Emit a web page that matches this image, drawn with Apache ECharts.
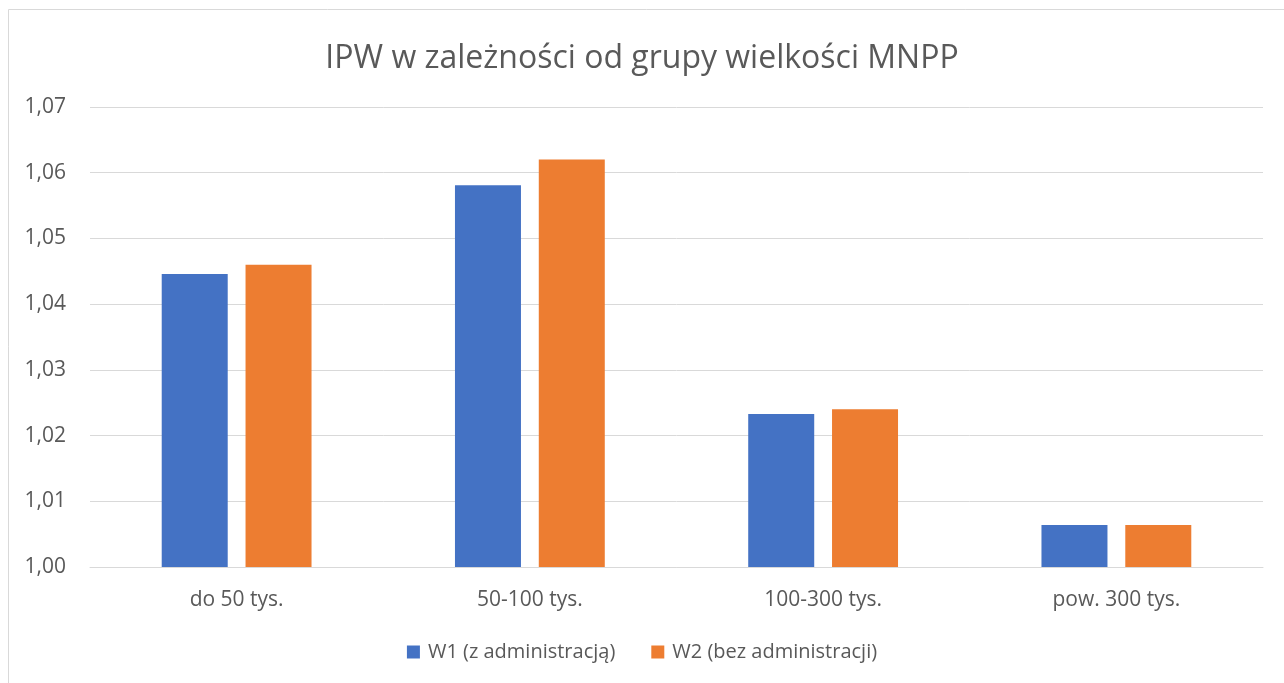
<!DOCTYPE html>
<html>
<head>
<meta charset="utf-8">
<script src="https://cdn.jsdelivr.net/npm/echarts@6/dist/echarts.min.js"></script>
<style>
html, body { margin: 0; padding: 0; background: #fff; }
#chart { width: 1284px; height: 683px; }
</style>
</head>
<body>
<div id="chart"></div>
<script>
const categories = ['do 50 tys.', '50-100 tys.', '100-300 tys.', 'pow. 300 tys.'];
const w1Values = [1.0446, 1.0581, 1.0233, 1.0064];
const w2Values = [1.0460, 1.0620, 1.0240, 1.0064];
const seriesNames = ['W1 (z administracją)', 'W2 (bez administracji)'];

const textColor = '#595959';
const fontFamily = '"Open Sans", sans-serif';

const chart = echarts.init(document.getElementById('chart'));
chart.setOption({
    animation: false,
    color: ['#4472c4', '#ed7d31'],
    graphic: [
        {
            type: 'rect',
            shape: { x: 8.5, y: 9.5, width: 1300, height: 700 },
            style: { fill: 'none', stroke: '#d9d9d9', lineWidth: 1 },
            silent: true
        }
    ],
    title: {
        text: 'IPW w zależności od grupy wielkości MNPP',
        left: 'center',
        top: 38,
        textStyle: {
            color: textColor,
            fontFamily: fontFamily,
            fontSize: 32,
            fontWeight: 'normal'
        }
    },
    legend: {
        bottom: 16,
        left: 'center',
        itemWidth: 13,
        itemHeight: 13,
        itemGap: 36,
        icon: 'rect',
        textStyle: {
            color: textColor,
            fontFamily: fontFamily,
            fontSize: 20,
            padding: [0, 0, 0, 3]
        }
    },
    grid: {
        left: 90,
        right: 21,
        top: 107,
        bottom: 116
    },
    xAxis: {
        type: 'category',
        data: categories,
        axisTick: { show: false },
        axisLine: { lineStyle: { color: '#d9d9d9', width: 1 } },
        axisLabel: {
            color: textColor,
            fontFamily: fontFamily,
            fontSize: 21,
            margin: 23
        }
    },
    yAxis: {
        type: 'value',
        min: 1.00,
        max: 1.07,
        interval: 0.01,
        axisLine: { show: false },
        axisTick: { show: false },
        splitLine: { lineStyle: { color: '#d9d9d9', width: 1 } },
        axisLabel: {
            color: textColor,
            fontFamily: fontFamily,
            fontSize: 21,
            margin: 24,
            formatter: value => value.toFixed(2).replace('.', ',')
        }
    },
    series: [
        {
            name: seriesNames[0],
            type: 'bar',
            data: w1Values,
            barWidth: 66,
            barGap: '27%'
        },
        {
            name: seriesNames[1],
            type: 'bar',
            data: w2Values,
            barWidth: 66,
            barGap: '27%'
        }
    ]
});
</script>
</body>
</html>
